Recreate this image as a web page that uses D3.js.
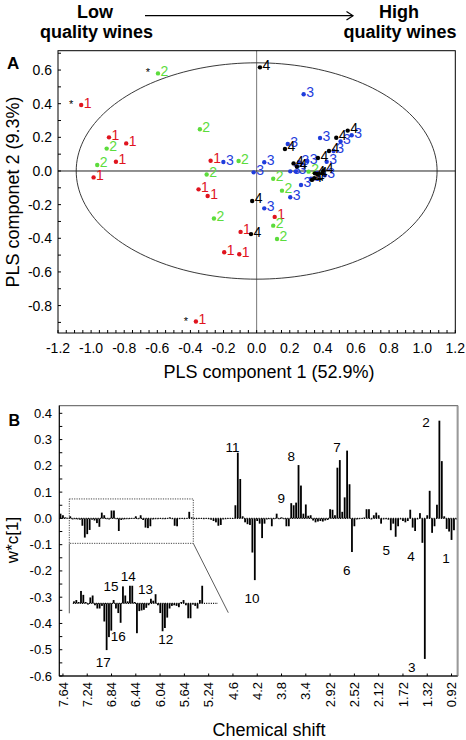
<!DOCTYPE html>
<html><head><meta charset="utf-8">
<script src="https://cdn.jsdelivr.net/npm/d3@7"></script>
<style>
body{margin:0;background:#fff}
svg{display:block}
text{font-family:"Liberation Sans",Arial,Helvetica,sans-serif}
</style>
</head><body>
<svg id="chart" width="466" height="740"></svg>
<script>
// ---------------- Panel A data (PLS scores) ----------------
const classNames = ["1","2","3","4"];
const classColors = ["#e0141e","#5cdc3c","#1f3ddc","#000000"];

const class1X = [-1.060,-0.892,-0.788,-0.850,-0.985,-0.278,-0.351,-0.296,-0.196,-0.105,-0.097,0.109,-0.367];
const class1Y = [ 0.392, 0.200, 0.164, 0.055,-0.038, 0.061,-0.109,-0.149,-0.483,-0.495,-0.362,-0.273,-0.895];
const class2X = [-0.596,-0.906,-0.963,-0.343,-0.302,-0.109,-0.258,0.100,0.153,0.100,0.123,0.314];
const class2Y = [ 0.580, 0.133, 0.036, 0.248,-0.021, 0.059,-0.282,-0.046,-0.117,-0.325,-0.404,-0.004];
const class3X = [-0.201,-0.018,0.046,0.046,0.284,0.188,0.383,0.574,0.507,0.465,0.423,0.256,0.306,0.203,0.237,0.411,0.328,0.268,0.203];
const class3Y = [ 0.053,-0.008,0.052,-0.222,0.456,0.160,0.196,0.212,0.176,0.119,0.055,0.052,0.059,-0.002,-0.002,-0.026,-0.046,-0.083,-0.156];
const class4X = [0.020,0.171,0.481,0.550,0.437,0.370,0.223,0.243,0.352,0.366,0.402,0.334,0.348,-0.027,-0.034];
const class4Y = [0.616,0.131,0.198,0.240,0.119,0.077,0.045,0.026,-0.014,-0.018,0.000,-0.053,-0.043,-0.178,-0.375];
// outliers flagged with "*": [class index, point index]
const outliers = [[0,0],[1,0],[0,12]];

const xTicksA = [-1.2,-1.0,-0.8,-0.6,-0.4,-0.2,0.0,0.2,0.4,0.6,0.8,1.0,1.2];
const xTickLabelsA = ["-1.2","-1.0","-0.8","-0.6","-0.4","-0.2","0.0","0.2","0.4","0.6","0.8","1.0","1.2"];
const yTicksA = [0.6,0.4,0.2,0.0,-0.2,-0.4,-0.6,-0.8];
const yTickLabelsA = ["0.6","0.4","0.2","0.0","-0.2","-0.4","-0.6","-0.8"];
const ellipseRadii = [1.09, 0.643];

// ---------------- Panel B data (loadings w*c[1]) ----------------
const shiftLabels = ["7.64","7.24","6.84","6.44","6.04","5.64","5.24","4.6","4.2","3.8","3.4","2.92","2.52","2.12","1.72","1.32","0.92"];
const loadings = [
 0.018, 0.012, 0.004, 0.002, 0.008,-0.004,-0.003,-0.004,-0.005,-0.028,
-0.073,-0.060,-0.044,-0.005,-0.008,-0.018,-0.032, 0.022, 0.012,-0.003,
-0.004, 0.030, 0.030,-0.003,-0.048,-0.006,-0.004,-0.003,-0.003,-0.002,
-0.002, 0.008,-0.003, 0.012,-0.006,-0.035,-0.037,-0.030,-0.004,-0.003,
-0.003,-0.002,-0.003,-0.003,-0.002, 0.004,-0.003,-0.028,-0.030,-0.003,
-0.002,-0.003,-0.002, 0.025, 0.004,-0.002,-0.003,-0.002,-0.002,-0.003,
-0.002,-0.003,-0.005,-0.010,-0.015,-0.028,-0.025,-0.004,-0.003,-0.002,
-0.002,-0.002, 0.050, 0.250, 0.150, 0.008,-0.015,-0.022,-0.025,-0.130,
-0.235,-0.010,-0.020,-0.075,-0.020,-0.004,-0.003,-0.030,-0.003, 0.018,
-0.003, 0.004,-0.003,-0.030,-0.030, 0.058, 0.050, 0.060, 0.203, 0.125,
 0.018, 0.053, 0.010, 0.012,-0.008,-0.015,-0.012,-0.010,-0.012,-0.008,
-0.006, 0.035, 0.033, 0.012, 0.193, 0.222, 0.025, 0.080, 0.258, 0.130,
-0.128,-0.030,-0.004,-0.003,-0.002, 0.003, 0.035, 0.035,-0.004, 0.012,
 0.022, 0.012,-0.020,-0.004,-0.003,-0.005,-0.045,-0.020,-0.070,-0.030,
-0.004,-0.010,-0.015,-0.010, 0.033,-0.035,-0.048,-0.004, 0.020,-0.093,
-0.535, 0.012, 0.105,-0.055,-0.030, 0.052, 0.372, 0.218, 0.008,-0.040,
-0.050,-0.082,-0.045,-0.004];
const insetLoadings = [
 0.003, 0.005, 0.002, 0.019, 0.013, 0.002,-0.002, 0.009, 0.012,-0.003,
-0.008,-0.008,-0.004,-0.028,-0.072,-0.052,-0.042, 0.005,-0.008,-0.015,
-0.030, 0.026, 0.012, 0.003, 0.027, 0.027, 0.002,-0.046,-0.012,-0.011,
-0.010,-0.007,-0.003, 0.007, 0.004, 0.014,-0.003,-0.015,-0.043,-0.038,
-0.022,-0.008,-0.004,-0.003,-0.004,-0.006, 0.002, 0.005,-0.003,-0.023,
-0.023,-0.002,-0.004,-0.008, 0.005, 0.027];
const yTicksB = [0.4,0.3,0.2,0.1,0.0,-0.1,-0.2,-0.3,-0.4,-0.5,-0.6];
const yTickLabelsB = ["0.4","0.3","0.2","0.1","0.0","-0.1","-0.2","-0.3","-0.4","-0.5","-0.6"];
// peak annotations: [label, bin position, value position]
const peakLabels = [["11",70.8,0.271],["8",95.0,0.238],["9",90.9,0.077],["7",113.8,0.273],["2",150.5,0.368],
 ["5",134.1,-0.122],["4",144.3,-0.143],["1",158.7,-0.151],["6",117.9,-0.196],["10",78.8,-0.303],["3",144.6,-0.566]];
const insetPeakLabels = [["15",15.9,0.0266],["14",23.3,0.042],["13",30.7,0.0215],["16",19.0,-0.050],["17",12.6,-0.090],["12",39.4,-0.055]];
// zoomed region of the spectrum: bins and value range
const zoomBins = [3.62, 54.67];
const zoomValues = [0.074, -0.095];

// ---------------- Drawing ----------------
const svg = d3.select("#chart");
const font = '"Liberation Sans",Arial,Helvetica,sans-serif';

// Header
function header(){
  svg.append("text").attr("x",95).attr("y",18).attr("text-anchor","middle").attr("font-size",18).attr("font-weight","bold").text("Low");
  svg.append("text").attr("x",96.5).attr("y",38).attr("text-anchor","middle").attr("font-size",18).attr("font-weight","bold").text("quality wines");
  svg.append("text").attr("x",399).attr("y",18).attr("text-anchor","middle").attr("font-size",18).attr("font-weight","bold").text("High");
  svg.append("text").attr("x",400).attr("y",38).attr("text-anchor","middle").attr("font-size",18).attr("font-weight","bold").text("quality wines");
  svg.append("line").attr("x1",145).attr("x2",353).attr("y1",15.7).attr("y2",15.7).attr("stroke","#000").attr("stroke-width",1.2);
  svg.append("path").attr("d","M346.5,11.5 L353,15.7 L346.5,20").attr("fill","none").attr("stroke","#000").attr("stroke-width",1.2);
}
header();

// ---- Panel A ----
const xA = d3.scaleLinear().domain([-1.2,1.2]).range([58,455.3]);
const yA = d3.scaleLinear().domain([-0.963,0.715]).range([333,50.7]);
const gA = svg.append("g");

svg.append("text").attr("x",7).attr("y",69).attr("font-size",17).attr("font-weight","bold").text("A");

// zero lines
gA.append("line").attr("x1",xA(0)).attr("x2",xA(0)).attr("y1",yA(0.715)).attr("y2",yA(-0.963)).attr("stroke","#777").attr("stroke-width",1);
gA.append("line").attr("x1",xA(-1.2)).attr("x2",xA(1.2)).attr("y1",yA(0)).attr("y2",yA(0)).attr("stroke","#222").attr("stroke-width",1);

// ellipse
const ell = d3.range(0,361,2).map(a=>[xA(ellipseRadii[0]*Math.cos(a*Math.PI/180)), yA(ellipseRadii[1]*Math.sin(a*Math.PI/180))]);
gA.append("path").attr("d",d3.line()(ell)+"Z").attr("fill","none").attr("stroke","#222").attr("stroke-width",0.9);

// frame
gA.append("rect").attr("x",xA(-1.2)).attr("y",yA(0.715)).attr("width",xA(1.2)-xA(-1.2)).attr("height",yA(-0.963)-yA(0.715))
  .attr("fill","none").attr("stroke","#000").attr("stroke-width",1);

// ticks
d3.range(-1.2,1.2001,0.05).forEach(v=>{
  gA.append("line").attr("x1",xA(v)).attr("x2",xA(v)).attr("y1",yA(-0.963)).attr("y2",yA(-0.963)-3).attr("stroke","#000");
});
d3.range(-0.9,0.7001,0.1).forEach(v=>{
  gA.append("line").attr("x1",xA(-1.2)).attr("x2",xA(-1.2)+3).attr("y1",yA(v)).attr("y2",yA(v)).attr("stroke","#000");
});
xTicksA.forEach((v,i)=>{
  gA.append("text").attr("x",xA(v)).attr("y",353).attr("text-anchor","middle").attr("font-size",14).text(xTickLabelsA[i]);
});
yTicksA.forEach((v,i)=>{
  gA.append("text").attr("x",52).attr("y",yA(v)+5).attr("text-anchor","end").attr("font-size",14).text(yTickLabelsA[i]);
});

// axis titles
gA.append("text").attr("x",269).attr("y",378).attr("text-anchor","middle").attr("font-size",18).text("PLS component 1 (52.9%)");
gA.append("text").attr("transform","translate(19,192) rotate(-90)").attr("text-anchor","middle").attr("font-size",18).text("PLS componet 2 (9.3%)");

// points
const classXs = [class1X,class2X,class3X,class4X];
const classYs = [class1Y,class2Y,class3Y,class4Y];
classXs.forEach((xs,c)=>{
  const ys = classYs[c];
  const pts = xs.map((x,i)=>({x, y:ys[i]}));
  const g = gA.append("g");
  g.selectAll("circle").data(pts).join("circle")
    .attr("cx",d=>xA(d.x)).attr("cy",d=>yA(d.y)).attr("r",2.2).attr("fill",classColors[c]);
  g.selectAll("text").data(pts).join("text")
    .attr("x",d=>xA(d.x)+2.5).attr("y",d=>yA(d.y)+2.5).attr("font-size",14).attr("fill",classColors[c]).text(classNames[c]);
});
outliers.forEach(([c,i])=>{
  gA.append("text").attr("x",xA(classXs[c][i])-10).attr("y",yA(classYs[c][i])+3).attr("text-anchor","middle")
    .attr("font-size",11).attr("fill","#000").text("*");
});

// ---- Panel B ----
const nBins = loadings.length;
const xB = d3.scaleLinear().domain([-0.5, nBins-0.5]).range([59.3,457.6]);
const yB = d3.scaleLinear().domain([-0.6,0.429]).range([676,405.7]);
const gB = svg.append("g");
svg.append("text").attr("x",8.5).attr("y",426).attr("font-size",16).attr("font-weight","bold").text("B");

// baseline (dotted)
gB.append("line").attr("x1",xB(-0.5)).attr("x2",xB(nBins-0.5)).attr("y1",yB(0)).attr("y2",yB(0))
  .attr("stroke","#000").attr("stroke-width",1.4).attr("stroke-dasharray","1,1.4");
// bars
const bw = 1.8;
gB.selectAll("rect.bar").data(loadings).join("rect").attr("class","bar")
  .attr("x",(d,i)=>xB(i)-bw/2).attr("width",bw)
  .attr("y",d=>Math.min(yB(d),yB(0))).attr("height",d=>Math.abs(yB(d)-yB(0)))
  .attr("fill","#000");

// frame
gB.append("rect").attr("x",xB(-0.5)).attr("y",yB(0.429)).attr("width",xB(nBins-0.5)-xB(-0.5)).attr("height",yB(-0.6)-yB(0.429))
  .attr("fill","none").attr("stroke","#555").attr("stroke-width",1);
gB.append("line").attr("x1",xB(nBins-0.5)).attr("x2",xB(nBins-0.5)).attr("y1",yB(0.429)).attr("y2",yB(-0.6)).attr("stroke","#999").attr("stroke-width",2);
gB.append("line").attr("x1",xB(-0.5)).attr("x2",xB(-0.5)).attr("y1",yB(0.429)).attr("y2",yB(-0.6)).attr("stroke","#000").attr("stroke-width",1);
gB.append("line").attr("x1",xB(-0.5)).attr("x2",xB(nBins-0.5)).attr("y1",yB(-0.6)).attr("y2",yB(-0.6)).attr("stroke","#000").attr("stroke-width",1);

// y ticks
d3.range(-0.6,0.4001,0.05).forEach(v=>{
  gB.append("line").attr("x1",xB(-0.5)).attr("x2",xB(-0.5)+3).attr("y1",yB(v)).attr("y2",yB(v)).attr("stroke","#000");
});
yTicksB.forEach((v,i)=>{
  gB.append("text").attr("x",52).attr("y",yB(v)+4.5).attr("text-anchor","end").attr("font-size",13).text(yTickLabelsB[i]);
});
// x labels (every 10 bins starting at bin 1)
shiftLabels.forEach((s,k)=>{
  const bx = xB(1+10*k);
  gB.append("line").attr("x1",bx).attr("x2",bx).attr("y1",yB(-0.6)).attr("y2",yB(-0.6)-2.5).attr("stroke","#000");
  gB.append("text").attr("transform",`translate(${bx},682) rotate(-90)`).attr("text-anchor","end").attr("dy","0.35em")
    .attr("font-size",13).text(s);
});
gB.append("text").attr("x",269).attr("y",736).attr("text-anchor","middle").attr("font-size",18).text("Chemical shift");
gB.append("text").attr("transform","translate(18,540) rotate(-90)").attr("text-anchor","middle").attr("font-size",17).text("w*c[1]");

// peak labels
peakLabels.forEach(([t,b,v])=>{
  gB.append("text").attr("x",xB(b)).attr("y",yB(v)).attr("dy","0.36em").attr("text-anchor","middle").attr("font-size",13.5).text(t);
});

// zoom box
const bx0 = xB(zoomBins[0]), bx1 = xB(zoomBins[1]), by0 = yB(zoomValues[0]), by1 = yB(zoomValues[1]);
gB.append("rect").attr("x",bx0).attr("y",by0).attr("width",bx1-bx0).attr("height",by1-by0)
  .attr("fill","none").attr("stroke","#333").attr("stroke-width",0.9).attr("stroke-dasharray","1.2,1.2");

// inset
const xI = d3.scaleLinear().domain([0,55]).range([74,202.2]);
const yI = d3.scaleLinear().domain([0,0.01]).range([603.3,596.8]);
gB.append("line").attr("x1",bx0).attr("x2",bx0).attr("y1",by1).attr("y2",613.3).attr("stroke","#333").attr("stroke-width",0.8);
gB.append("line").attr("x1",bx1).attr("x2",228.3).attr("y1",by1).attr("y2",612.7).attr("stroke","#333").attr("stroke-width",0.8);
gB.append("line").attr("x1",xI(-0.5)).attr("x2",218).attr("y1",yI(0)).attr("y2",yI(0))
  .attr("stroke","#000").attr("stroke-width",1.2).attr("stroke-dasharray","1,1.3");
gB.selectAll("rect.ibar").data(insetLoadings).join("rect").attr("class","ibar")
  .attr("x",(d,i)=>xI(i)-0.9).attr("width",1.8)
  .attr("y",d=>Math.min(yI(d),yI(0))).attr("height",d=>Math.abs(yI(d)-yI(0)))
  .attr("fill","#000");
insetPeakLabels.forEach(([t,j,v])=>{
  gB.append("text").attr("x",xI(j)).attr("y",yI(v)).attr("dy","0.36em").attr("text-anchor","middle").attr("font-size",13.5).text(t);
});
</script>
</body></html>
